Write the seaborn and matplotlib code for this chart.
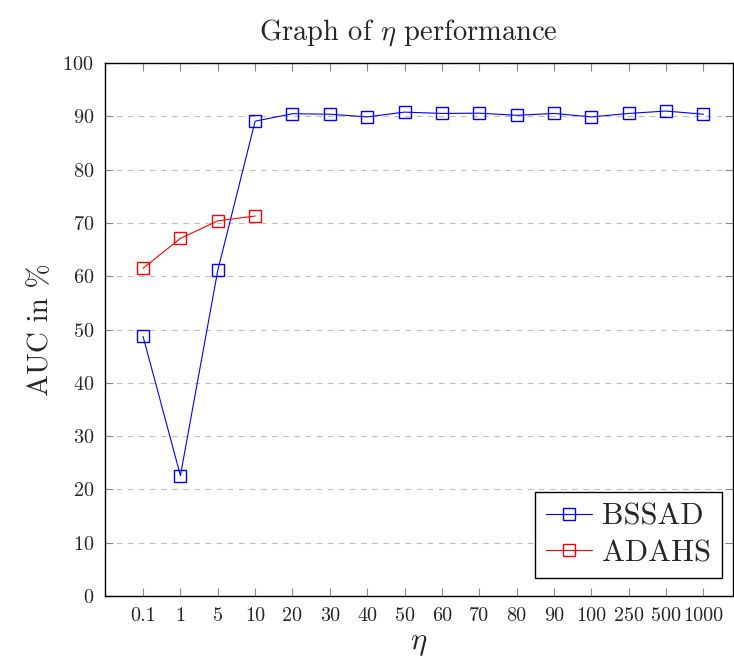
import matplotlib
matplotlib.use("Agg")
import matplotlib.pyplot as plt
from matplotlib.lines import Line2D
import numpy as np
import pandas as pd
import seaborn as sns

# eta settings on the categorical x axis
eta_labels = ["0.1", "1", "5", "10", "20", "30", "40", "50", "60", "70",
              "80", "90", "100", "250", "500", "1000"]
bssad_auc = [48.7, 22.6, 61.1, 89.1, 90.5, 90.4, 89.9, 90.8, 90.55, 90.6,
             90.2, 90.55, 89.9, 90.55, 91.0, 90.4]
adahs_auc = [61.5, 67.1, 70.4, 71.3]

sns.set_theme(style="white")
plt.rcParams["font.family"] = ["cmr10"]
plt.rcParams["mathtext.fontset"] = "cm"
plt.rcParams["axes.formatter.use_mathtext"] = True

pos = np.arange(len(eta_labels))
df = pd.concat([
    pd.DataFrame({"pos": pos, "auc": bssad_auc, "method": "BSSAD"}),
    pd.DataFrame({"pos": pos[:len(adahs_auc)], "auc": adahs_auc, "method": "ADAHS"}),
])

fig = plt.figure(figsize=(7.34, 6.64), dpi=100)
ax = fig.add_axes([0.143, 0.1024, 0.856, 0.8026])

sns.lineplot(data=df, x="pos", y="auc", hue="method",
             palette={"BSSAD": "#0000ff", "ADAHS": "#ff0000"},
             marker="s", markersize=8.5, markerfacecolor="none",
             markeredgewidth=1.0, linewidth=0.8, ax=ax, legend=False)
for line in ax.lines:
    line.set_markeredgecolor(line.get_color())

ax.set_xlim(-1.02, 15.8)
ax.set_ylim(0, 100)
ax.set_xticks(pos)
ax.set_xticklabels(eta_labels)
ax.set_yticks(np.arange(0, 101, 10))

ax.yaxis.grid(True, linestyle=(0, (5, 5)), color="#bdbdbd", linewidth=0.8)
ax.set_axisbelow(True)

ax.tick_params(axis="both", direction="in", length=6, width=0.8,
               color="#888888", labelsize=14.5, pad=8)
ax.tick_params(axis="x", top=True, bottom=True)
ax.tick_params(axis="y", left=True, right=True)
for sp in ax.spines.values():
    sp.set_color("black")
    sp.set_linewidth(1.0)

ax.set_xlabel(r"$\eta$", fontsize=22, labelpad=4)
ax.set_ylabel("AUC in %", fontsize=21, labelpad=6)
ax.set_title(r"Graph of $\eta$ performance", fontsize=20.5, pad=17, x=0.483)

handles = [
    Line2D([], [], color="#0000ff", marker="s", markerfacecolor="none",
           markersize=8.5, linewidth=0.8),
    Line2D([], [], color="#ff0000", marker="s", markerfacecolor="none",
           markersize=8.5, linewidth=0.8),
]
leg = ax.legend(handles, ["BSSAD", "ADAHS"], loc="lower right",
                bbox_to_anchor=(0.982, 0.034), fontsize=22,
                frameon=True, fancybox=False, edgecolor="black",
                framealpha=1, handlelength=1.5, borderaxespad=0.0,
                handletextpad=0.35, borderpad=0.35, labelspacing=0.3)
leg.get_frame().set_linewidth(1.0)

fig.savefig("out.png", dpi=100)
